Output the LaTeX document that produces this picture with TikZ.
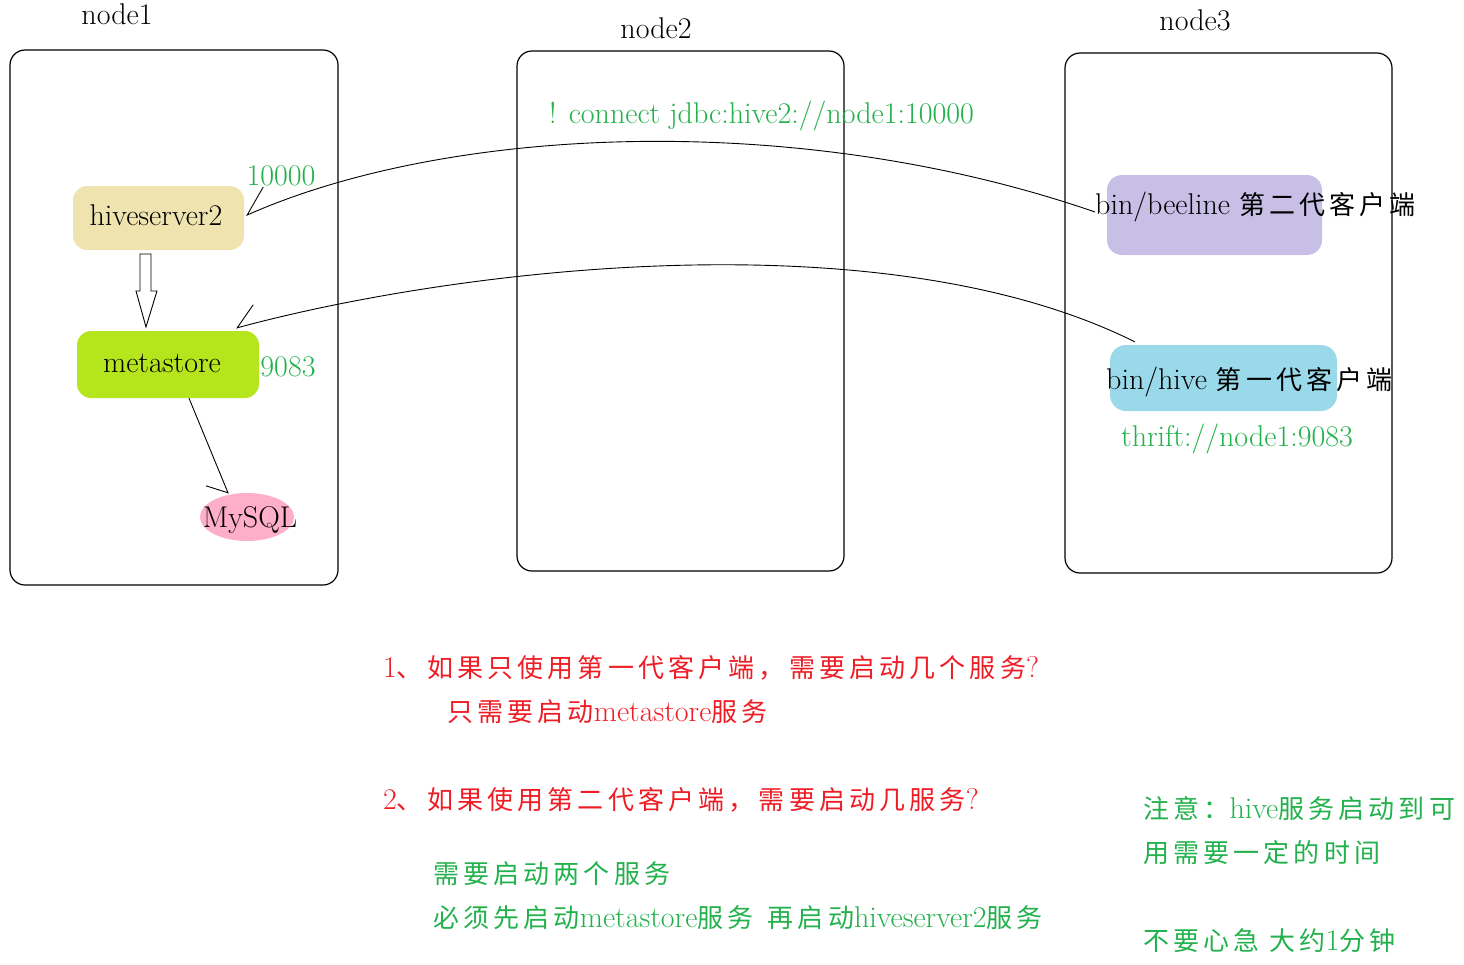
\documentclass[tikz,border=0pt]{standalone}
\usepackage{fontspec}
\usetikzlibrary{shapes.geometric}
\newfontfamily\cjk[LetterSpace=16]{Noto Sans CJK SC}
\newcommand\zh[1]{{\cjk\fontsize{26}{30}\selectfont #1}}
\definecolor{wheatc}{HTML}{EFE4B0}
\definecolor{limec}{HTML}{B5E61D}
\definecolor{pinkc}{HTML}{FFAEC9}
\definecolor{lavc}{HTML}{C8BFE7}
\definecolor{bluec}{HTML}{99D9EA}
\definecolor{grn}{HTML}{22B14C}
\definecolor{redc}{HTML}{EE1C24}
\tikzset{
  lat/.style={font=\fontsize{30}{34}\selectfont, inner sep=0pt},
  hostbox/.style={draw, line width=1.2pt, rounded corners=15pt, inner sep=0pt},
  svc/.style={inner sep=0pt, rounded corners=14pt},
  conn/.style={draw, line width=0.9pt},
}
\begin{document}
\begin{tikzpicture}[x=1pt,y=-1pt]
\useasboundingbox (0,0) rectangle (1464,964);
% host boxes
\node[hostbox, minimum width=328pt, minimum height=535pt] (n1) at (174,317.5) {};
\node[hostbox, minimum width=327pt, minimum height=520pt] (n2) at (680.5,311) {};
\node[hostbox, minimum width=327pt, minimum height=520pt] (n3) at (1228.5,313) {};
\node[lat] (t1) at (117,14) {node1};
\node[lat] (t2) at (656,28) {node2};
\node[lat] (t3) at (1195,20) {node3};
% services in node1
\node[svc, fill=wheatc, minimum width=171pt, minimum height=64pt] (hs) at (158.5,218) {};
\node[lat] (hst) at (156,215) {hiveserver2};
\node[svc, fill=limec, minimum width=182pt, minimum height=67pt] (ms) at (168,364.5) {};
\node[lat] (mst) at (162,363) {metastore};
\node[ellipse, fill=pinkc, minimum width=94pt, minimum height=48pt, inner sep=0pt] (my) at (247,517) {};
\node[lat] (myt) at (250,520) {MySQL};
\node[lat, text=grn] (p1) at (281,176) {10000};
\node[lat, text=grn] (p2) at (288,367) {9083};
% clients in node3
\node[svc, fill=lavc, rounded corners=15pt, minimum width=215pt, minimum height=80pt] (bl) at (1214.5,215) {};
\node[lat, anchor=west] (blt) at (1095,207) {bin/beeline \zh{第二代客户端}};
\node[svc, fill=bluec, rounded corners=16pt, minimum width=227pt, minimum height=66pt] (hv) at (1223.5,378) {};
\node[lat, anchor=west] (hvt) at (1106,382) {bin/hive \zh{第一代客户端}};
\node[lat, text=grn] (thr) at (1237,439) {thrift://node1:9083};
\node[lat, text=grn, anchor=west] (jdbc) at (549,116) {! connect jdbc:hive2://node1:10000};
% connectors
\draw[conn] ([yshift=-5pt]blt.west) .. controls (800,110) and (450,125) .. ([shift={(3,-3)}]hs.east) -- ++(16,-28);
\draw[conn] ([shift={(25,-3)}]hv.north west) .. controls (880,215) and (450,270) .. ([shift={(-22,-3)}]ms.north east) -- ++(16,-23);
\draw[conn] ([xshift=21pt]ms.south) -- ([xshift=-19pt]my.north) -- ++(-22,-7);
% block arrow
\draw[line width=0.9pt, fill=white] (140,254) -- (151,254) -- (151,291) -- (157,291) -- (146,327) -- (136,291) -- (140,291) -- cycle;
% questions
\node[lat, text=redc, anchor=west] (q1) at (383,668) {1\zh{、如果只使用第一代客户端，需要启动几个服务}?};
\node[lat, text=redc, anchor=west] (q1a) at (447,712) {\zh{只需要启动}metastore\zh{服务}};
\node[lat, text=redc, anchor=west] (q2) at (383,800) {2\zh{、如果使用第二代客户端，需要启动几服务}?};
\node[lat, text=grn, anchor=west] (a1) at (433,874) {\zh{需要启动两个服务}};
\node[lat, text=grn, anchor=west] (a2) at (433,918) {\zh{必须先启动}metastore\zh{服务}\hspace{14pt}\zh{再启动}hiveserver2\zh{服务}};
% note
\node[lat, text=grn, anchor=west] (nt1) at (1143,809) {\zh{注意：}hive\zh{服务启动到可}};
\node[lat, text=grn, anchor=west] (nt2) at (1143,853) {\zh{用需要一定的时间}};
\node[lat, text=grn, anchor=west] (nt3) at (1143,941) {\zh{不要心急}\hspace{10pt}\zh{大约}1\zh{分钟}};
\end{tikzpicture}
\end{document}
